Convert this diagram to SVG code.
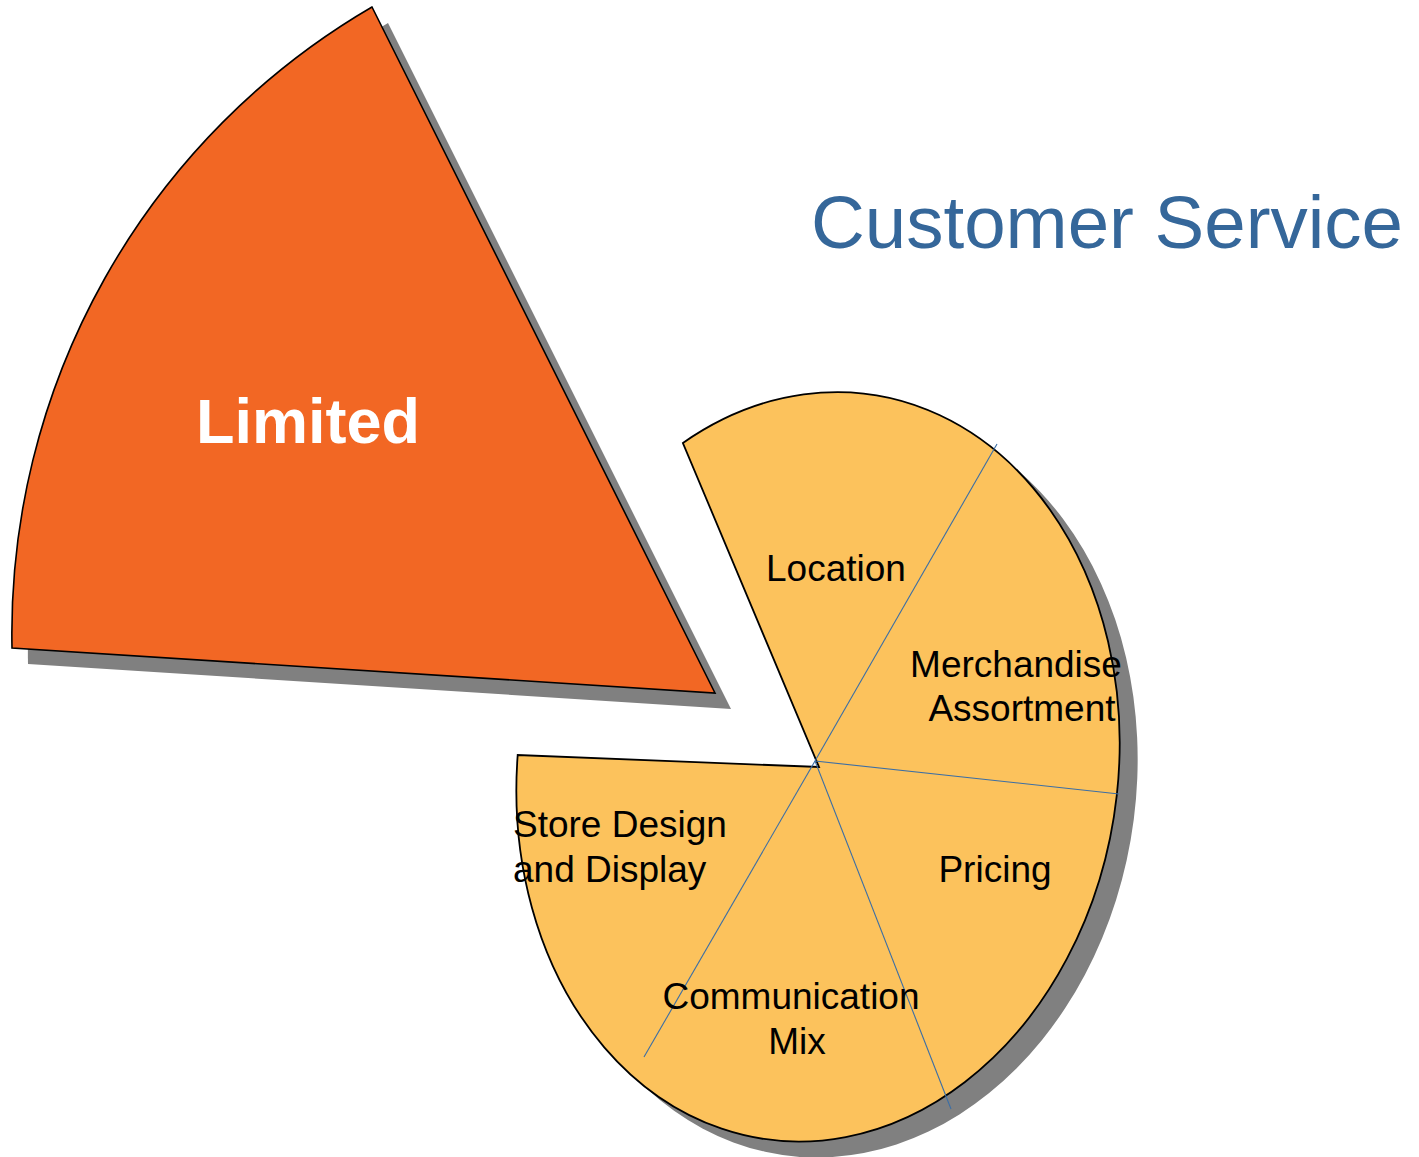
<svg xmlns="http://www.w3.org/2000/svg" width="1419" height="1157" viewBox="0 0 1419 1157">
  <defs>
    <style>
      .shadow { fill: #808080; stroke: none; }
      .orange { fill: #F26724; stroke: #000; stroke-width: 1.6; stroke-linejoin: miter; }
      .pie { fill: #FCC25C; stroke: #000; stroke-width: 1.8; stroke-linejoin: miter; }
      .divider { stroke: #3B6EA5; stroke-width: 1.1; fill: none; }
      .label { font-family: "Liberation Sans", Arial, sans-serif; font-size: 37px; fill: #000; }
      .title { font-family: "Liberation Sans", Arial, sans-serif; font-size: 74.5px; fill: #35679A; }
      .big { font-family: "Liberation Sans", Arial, sans-serif; font-size: 63px; font-weight: bold; fill: #FFFFFF; }
    </style>
    <path id="orangeShape" d="M 715 693 L 372 7 A 725 725 0 0 0 12 648 Z"/>
    <path id="pieShape" d="M 819 767 L 682.9 443 A 300 376 8 1 1 517.7 755 Z"/>
  </defs>

  <rect width="1419" height="1157" fill="#FFFFFF"/>

  <g id="limited-slice">
    <use href="#orangeShape" class="shadow" transform="translate(16,16)"/>
    <use href="#orangeShape" class="orange"/>
    <text class="big" x="308" y="443" text-anchor="middle">Limited</text>
  </g>

  <g id="pie-body">
    <use href="#pieShape" class="shadow" transform="translate(18,16)"/>
    <use href="#pieShape" class="pie"/>
  </g>

  <g id="connectors">
    <line class="divider" x1="815" y1="761" x2="997" y2="444"/>
    <line class="divider" x1="815" y1="761" x2="1119" y2="794"/>
    <line class="divider" x1="815" y1="761" x2="951" y2="1109"/>
    <line class="divider" x1="815" y1="761" x2="644" y2="1057"/>
  </g>

  <g id="location">
    <text class="label" x="836" y="581" text-anchor="middle">Location</text>
  </g>
  <g id="merchandise-assortment">
    <text class="label" x="1016" y="677" text-anchor="middle">Merchandise</text>
    <text class="label" x="1022" y="721" text-anchor="middle">Assortment</text>
  </g>
  <g id="pricing">
    <text class="label" x="995" y="882" text-anchor="middle">Pricing</text>
  </g>
  <g id="communication-mix">
    <text class="label" x="791" y="1009" text-anchor="middle">Communication</text>
    <text class="label" x="797" y="1054" text-anchor="middle">Mix</text>
  </g>
  <g id="store-design">
    <text class="label" x="513" y="837">Store Design</text>
    <text class="label" x="513" y="882">and Display</text>
  </g>

  <g id="title">
    <text class="title" x="811" y="248">Customer Service</text>
  </g>
</svg>
